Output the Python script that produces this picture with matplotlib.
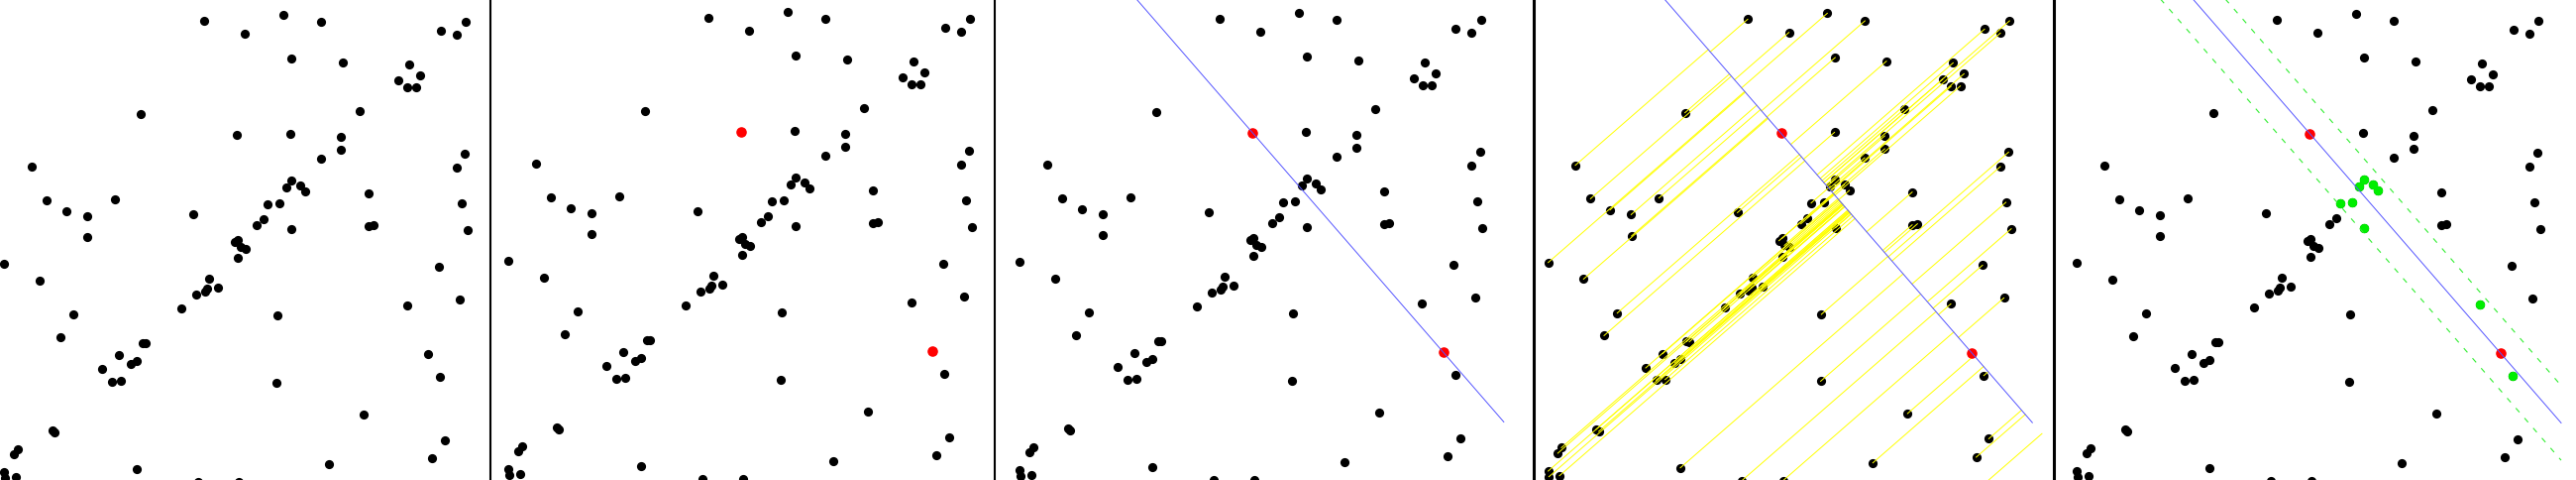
'''RANSAC line fitting, shown step by step in five panels'''

import numpy as np
import matplotlib
matplotlib.use("Agg")
from matplotlib import pyplot as plt

##########################################
# point cloud, pixel coords of the first panel (y goes down)
xs = [205.7, 286.0, 324.0, 247.3, 444.7, 460.7, 470.0, 294.0, 345.7, 413.0,
      424.0, 402.3, 411.0, 420.3, 142.3, 363.3, 239.3, 293.3, 344.0, 344.0,
      469.0, 31.7, 323.7, 460.7, 294.0, 289.0, 303.3, 308.3, 47.0, 116.0,
      371.7, 269.7, 282.3, 66.7, 88.0, 195.3, 466.3, 265.7, 259.3, 371.7,
      377.0, 294.3, 471.7, 88.3, 237.3, 240.3, 242.7, 248.0, 240.3, 4.3,
      442.7, 40.0, 210.7, 197.7, 206.7, 209.3, 220.3, 182.7, 410.7, 464.3,
      74.0, 280.0, 60.7, 144.0, 146.7, 119.7, 138.0, 132.0, 432.0, 102.7,
      113.3, 122.3, 444.0, 279.3, 367.0, 52.7, 55.3, 449.0, 17.7, 14.0,
      436.3, 137.7, 332.0, 4.3, 5.0, 15.7, 199.7, 241.3, 434.8]
ys = [21.7, 15.7, 23.3, 35.0, 31.7, 35.7, 23.3, 60.3, 64.0, 65.7,
      76.7, 82.3, 89.3, 89.0, 116.0, 112.7, 136.7, 135.7, 139.3, 152.3,
      155.7, 169.0, 161.3, 170.3, 183.0, 190.0, 188.3, 194.3, 202.7, 202.0,
      196.0, 207.0, 206.0, 214.0, 218.7, 216.7, 206.3, 222.0, 228.0, 229.0,
      228.0, 232.0, 233.0, 240.3, 245.0, 242.7, 249.7, 251.7, 261.3, 267.0,
      269.7, 283.7, 282.0, 298.0, 295.0, 292.3, 291.0, 312.3, 308.7, 302.7,
      318.0, 319.3, 340.7, 346.7, 347.0, 359.0, 364.7, 368.3, 358.3, 373.3,
      385.7, 385.0, 381.0, 386.7, 419.3, 435.3, 437.3, 444.7, 453.7, 459.3,
      463.3, 474.0, 469.0, 477.3, 483.0, 482.0, 487.0, 487.0, 498.6]

sample = [16, 68]      # the two randomly picked points
thresh = 24.7          # inlier distance
line_x = [0, 493]      # x range the model line is drawn over

# panels: left/right edge in figure px, and data offset of each sub image
panel_edges = [0, 495, 1004, 1547.5, 2072.5, 2600]
panel_ox = [0, 508.9, 1024.8, 1558.3, 2092.0]
panel_oy = [0, -3.0, -2.0, -1.3, -1.0]
divider_w = [0, 1.5, 1.5, 2.2, 2.2]

##########################################
W, H = 2600, 485
fig = plt.figure(figsize=(W/100, H/100), dpi=100)
fig.patch.set_facecolor('white')

x = np.array(xs)
y = np.array(ys)

# model line from the two samples
x1, y1 = x[sample[0]], y[sample[0]]
x2, y2 = x[sample[1]], y[sample[1]]
d = np.array([x2-x1, y2-y1])
d = d/np.hypot(*d)
n = np.array([d[1], -d[0]])            # normal, pointing up-right
slope = (y2-y1)/(x2-x1)
lx = np.array(line_x, dtype=float)
ly = y1 + (lx-x1)*slope

# signed distance of every point to the line and its foot on it
dist = (x-x1)*n[0] + (y-y1)*n[1]
fx = x - dist*n[0]
fy = y - dist*n[1]
inl = np.abs(dist) < thresh
inl[sample] = False
off = thresh*np.hypot(1, slope)

for k in range(5):
  l, r = panel_edges[k], panel_edges[k+1]
  ax = fig.add_axes([l/W, 0, (r-l)/W, 1])
  ox, oy = panel_ox[k], panel_oy[k]
  ax.set_xlim(l-ox, r-ox)
  ax.set_ylim(H-oy, -oy)
  ax.set_xticks([])
  ax.set_yticks([])
  for s in ax.spines.values():
    s.set_visible(False)
  if k > 0:
    ax.spines['left'].set_visible(True)
    ax.spines['left'].set_linewidth(divider_w[k])
    ax.spines['left'].set_zorder(10)

  ax.plot(x, y, 'o', color='black', ms=6.6, mew=0, zorder=2)

  if k == 3:
    #perpendicular from each point to the model line
    for i in range(len(x)):
      ax.plot([x[i], fx[i]], [y[i], fy[i]], color='#ffff00', lw=0.7, zorder=3)

  if k == 4:
    ax.plot(x[inl], y[inl], 'o', color='#00ee00', ms=6.8, mew=0, zorder=3)
    ax.plot(lx, ly-off, color='#33ee33', lw=0.8, dashes=(5, 7), zorder=4)
    ax.plot(lx, ly+off, color='#33ee33', lw=0.8, dashes=(5, 7), zorder=4)

  if k > 0:
    ax.plot(x[sample], y[sample], 'o', color='#ff0000', ms=7.6, mew=0, zorder=5)
  if k > 1:
    ax.plot(lx, ly, color='#5555ff', lw=0.7, zorder=6)

fig.savefig('out.png', dpi=100, facecolor='white')
